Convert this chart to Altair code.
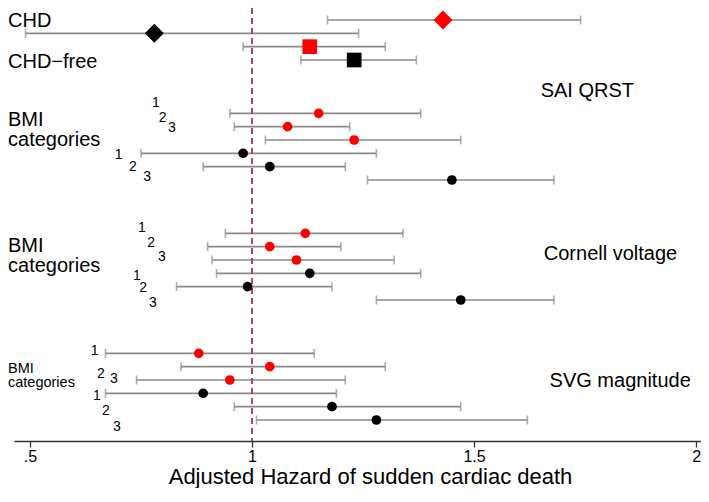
import altair as alt
import pandas as pd

# ---- point estimates and 95% CIs (hazard ratios) ----
rows = [0, 1, 2, 3,
        7, 8, 9, 10, 11, 12,
        16, 17, 18, 19, 20, 21,
        25, 26, 27, 28, 29, 30]
est = [1.43, 0.78, 1.13, 1.23,
       1.15, 1.08, 1.23, 0.98, 1.04, 1.45,
       1.12, 1.04, 1.10, 1.13, 0.99, 1.47,
       0.88, 1.04, 0.95, 0.89, 1.18, 1.28]
lo = [1.17, 0.49, 0.98, 1.11,
      0.95, 0.96, 1.03, 0.75, 0.89, 1.26,
      0.94, 0.90, 0.91, 0.92, 0.83, 1.28,
      0.67, 0.84, 0.74, 0.67, 0.96, 1.01]
hi = [1.74, 1.24, 1.30, 1.37,
      1.38, 1.22, 1.47, 1.28, 1.21, 1.68,
      1.34, 1.20, 1.32, 1.38, 1.18, 1.68,
      1.14, 1.30, 1.21, 1.19, 1.47, 1.62]
series = ["red", "black", "red", "black",
          "red", "red", "red", "black", "black", "black",
          "red", "red", "red", "black", "black", "black",
          "red", "red", "red", "black", "black", "black"]
marker = ["CHD", "CHD", "CHD-free", "CHD-free"] + ["BMI"] * 18

# ---- text annotations ----
ann_text = ["CHD", "CHD\u2212free", "BMI", "categories", "BMI", "categories",
            "SAI QRST", "Cornell voltage", "SVG magnitude"]
ann_x = [0.4505, 0.4505, 0.4505, 0.4505, 0.4505, 0.4505, 1.650, 1.657, 1.670]
ann_row = [0.5, 3.6, 7.95, 9.45, 17.4, 18.9, 5.8, 18.0, 27.5]

small_text = ["BMI", "categories"]
small_x = [0.4505, 0.4505]
small_row = [26.45, 27.55]

digit_text = ["1", "2", "3", "1", "2", "3",
              "1", "2", "3", "1", "2", "3",
              "1", "2", "3", "1", "2", "3"]
digit_x = [0.775, 0.790, 0.811, 0.691, 0.723, 0.755,
           0.743, 0.764, 0.788, 0.732, 0.746, 0.768,
           0.637, 0.651, 0.680, 0.642, 0.662, 0.687]
digit_row = [6.5, 7.65, 8.4, 10.4, 11.3, 12.1,
             15.9, 17.0, 18.05, 19.5, 20.4, 21.5,
             25.1, 26.85, 27.2, 28.5, 29.6, 30.8]

ref_value = [1.0]
tick_values = [0.5, 1, 1.5, 2]

df = pd.DataFrame(dict(row=rows, est=est, lo=lo, hi=hi, series=series, marker=marker))
ann = pd.DataFrame(dict(text=ann_text, x=ann_x, row=ann_row))
small = pd.DataFrame(dict(text=small_text, x=small_x, row=small_row))
digits = pd.DataFrame(dict(text=digit_text, x=digit_x, row=digit_row))
ref = pd.DataFrame(dict(ref=ref_value))

FONT = "Liberation Sans"
GRAY = "#8a8a8a"

xscale = alt.Scale(domain=[0.464, 2.011], nice=False, zero=False)
yscale = alt.Scale(domain=[-0.9, 31.575], reverse=True, nice=False, zero=False)
xaxis = alt.Axis(
    title="Adjusted Hazard of sudden cardiac death",
    values=tick_values,
    labelExpr="datum.value == 0.5 ? '.5' : toString(datum.value)",
    grid=False,
    domainColor="#333333", domainWidth=1.3,
    tickColor="#333333", tickWidth=1.3, tickSize=6,
    labelFont=FONT, labelFontSize=16, labelColor="black", labelPadding=1,
    titleFont=FONT, titleFontSize=22, titleFontWeight="normal", titleColor="black",
    titlePadding=2, titleX=356, titleAlign="center",
)


def X(field):
    return alt.X(field, type="quantitative", scale=xscale, axis=xaxis)


Y = alt.Y("row:Q", scale=yscale, axis=None)
COLOR = alt.Color("series:N", scale=alt.Scale(domain=["red", "black"], range=["#ff0000", "#000000"]), legend=None)

base = alt.Chart(df)
bars = base.mark_rule(color=GRAY, strokeWidth=1.6).encode(x=X("lo"), x2="hi:Q", y=Y)
cap_lo = base.mark_tick(orient="vertical", color=GRAY, size=9, thickness=1.6).encode(x=X("lo"), y=Y)
cap_hi = base.mark_tick(orient="vertical", color=GRAY, size=9, thickness=1.6).encode(x=X("hi"), y=Y)

refline = alt.Chart(ref).mark_rule(color="#a8324e", strokeWidth=1.8, strokeDash=[6, 4]).encode(x=X("ref"))

diamonds = base.transform_filter(alt.datum.marker == "CHD").mark_point(
    filled=True, opacity=1, strokeWidth=0, shape="diamond", size=361).encode(x=X("est"), y=Y, color=COLOR)
squares = base.transform_filter(alt.datum.marker == "CHD-free").mark_point(
    filled=True, opacity=1, strokeWidth=0, shape="square", size=216).encode(x=X("est"), y=Y, color=COLOR)
circles = base.transform_filter(alt.datum.marker == "BMI").mark_point(
    filled=True, opacity=1, strokeWidth=0, shape="circle", size=95).encode(x=X("est"), y=Y, color=COLOR)

labels = alt.Chart(ann).mark_text(font=FONT, fontSize=20, align="left", baseline="alphabetic", color="black").encode(
    x=X("x"), y=Y, text="text:N")
small_labels = alt.Chart(small).mark_text(font=FONT, fontSize=14.5, align="left", baseline="alphabetic", color="black").encode(
    x=X("x"), y=Y, text="text:N")
digit_labels = alt.Chart(digits).mark_text(font=FONT, fontSize=14, align="left", baseline="alphabetic", color="black").encode(
    x=X("x"), y=Y, text="text:N")

chart = alt.layer(bars, cap_lo, cap_hi, refline, diamonds, squares, circles,
                  labels, small_labels, digit_labels).properties(
    width=687, height=433,
    padding={"left": 6, "top": 0, "right": 0, "bottom": 47},
    autosize="none",
    background="white",
).configure_view(stroke=None)

chart.save("out.html", embed_options={"renderer": "svg", "actions": False})
